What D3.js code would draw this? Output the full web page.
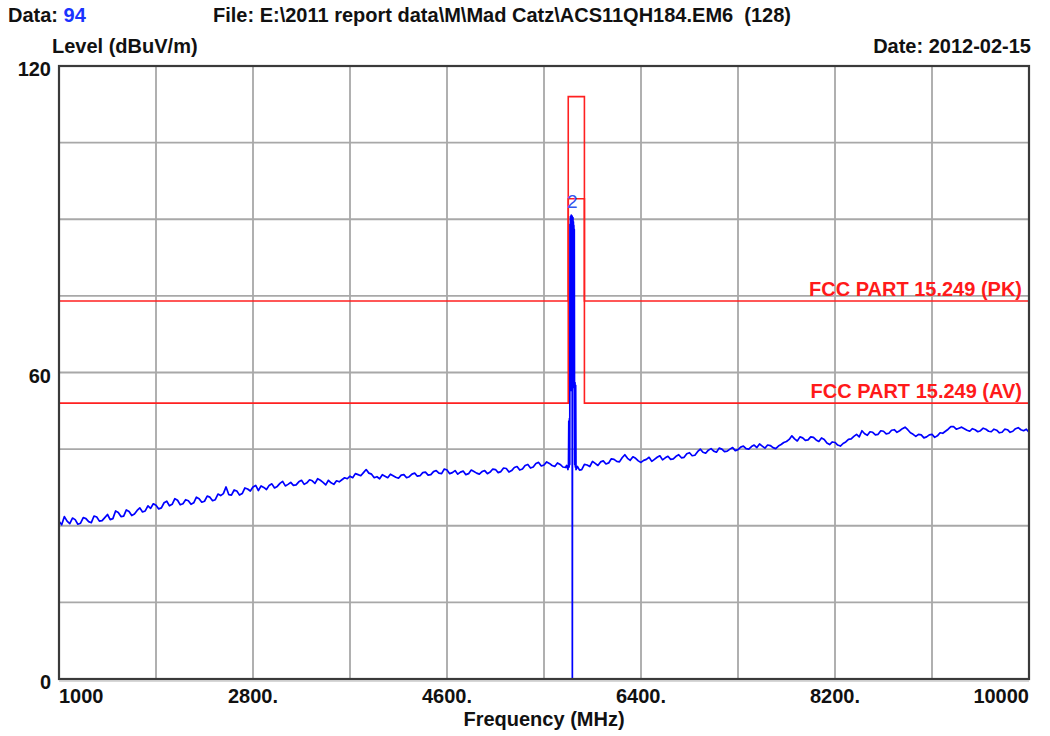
<!DOCTYPE html>
<html><head><meta charset="utf-8">
<script src="https://cdn.jsdelivr.net/npm/d3@7"></script>
<style>
html,body{margin:0;padding:0;background:#fff;}
svg text{font-family:"Liberation Sans",Arial,sans-serif;font-weight:bold;white-space:pre;}
</style></head>
<body><svg id="c" width="1050" height="736"></svg>
<script>
// ---------- data ----------
const xTickValues = [1000, 2800, 4600, 6400, 8200, 10000];
const xTickLabels = ["1000", "2800.", "4600.", "6400.", "8200.", "10000"];
const yTickValues = [0, 60, 120];
const yTickLabels = ["0", "60", "120"];
const xGrid = [1900, 2800, 3700, 4600, 5500, 6400, 7300, 8200, 9100];
const yGrid = [15, 30, 45, 60, 75, 90, 105];

// limit lines [MHz, dBuV/m]
const limitPK = [[1000,74],[5725,74],[5725,114],[5875,114],[5875,74],[10000,74]];
const limitAV = [[1000,54],[5725,54],[5725,94],[5875,94],[5875,54],[10000,54]];
const limitLabels = ["FCC PART 15.249 (PK)", "FCC PART 15.249 (AV)"];
const limitLabelLevels = [74, 54];

// measured trace [MHz, dBuV/m]
const trace = [
[1000,30.9],[1025,30.2],[1050,31.8],[1075,30.9],[1100,30.4],[1125,31.5],[1150,31.2],[1175,30.3],[1200,30.5],[1225,31.6],
[1250,31.4],[1275,30.8],[1300,30.6],[1325,31.9],[1350,31.7],[1375,30.9],[1400,31.0],[1425,31.6],[1450,32.2],[1475,31.2],
[1500,31.4],[1525,32.9],[1550,32.6],[1575,31.8],[1600,31.9],[1625,33.1],[1650,32.8],[1675,32.0],[1700,32.3],[1725,33.0],
[1750,33.5],[1775,32.7],[1800,32.9],[1825,33.9],[1850,33.4],[1875,34.3],[1900,34.0],[1925,33.3],[1950,33.5],[1975,34.5],
[2000,34.8],[2025,33.9],[2050,34.2],[2075,35.3],[2100,35.0],[2125,34.1],[2150,34.3],[2175,35.1],[2200,34.9],[2225,34.2],
[2250,34.5],[2275,35.6],[2300,35.3],[2325,34.6],[2350,34.8],[2375,35.8],[2400,35.6],[2425,34.9],[2450,35.1],[2475,36.2],
[2500,35.9],[2525,36.3],[2550,37.6],[2575,36.1],[2600,36.0],[2625,37.0],[2650,36.8],[2675,36.0],[2700,36.3],[2725,37.4],
[2750,37.2],[2775,36.8],[2800,37.6],[2825,37.9],[2850,36.9],[2875,37.8],[2900,37.5],[2925,37.1],[2950,37.9],[2975,38.2],
[3000,37.4],[3025,37.7],[3050,38.3],[3075,38.7],[3100,37.8],[3125,38.1],[3150,38.5],[3175,37.9],[3200,38.0],[3225,38.6],
[3250,38.9],[3275,38.1],[3300,38.4],[3325,39.0],[3350,38.8],[3375,38.3],[3400,39.2],[3425,38.9],[3450,38.5],[3475,38.0],
[3500,38.9],[3525,38.4],[3550,38.1],[3575,38.8],[3600,38.6],[3625,39.0],[3650,39.4],[3675,39.2],[3700,39.7],[3725,39.4],
[3750,40.2],[3775,40.0],[3800,39.8],[3825,40.4],[3850,41.0],[3875,40.3],[3900,40.1],[3925,39.4],[3950,39.6],[3975,39.2],
[4000,40.0],[4025,39.7],[4050,39.4],[4075,40.1],[4100,39.8],[4125,39.5],[4150,39.3],[4175,39.9],[4200,40.0],[4225,39.4],
[4250,39.6],[4275,40.1],[4300,40.3],[4325,39.7],[4350,39.8],[4375,40.4],[4400,40.5],[4425,39.9],[4450,40.0],[4475,40.6],
[4500,40.8],[4525,40.3],[4550,40.2],[4575,41.1],[4600,40.9],[4625,40.2],[4650,40.4],[4675,40.8],[4700,40.1],[4725,40.5],
[4750,40.7],[4775,40.0],[4800,40.2],[4825,40.9],[4850,40.6],[4875,40.3],[4900,40.1],[4925,40.6],[4950,40.8],[4975,40.2],
[5000,40.5],[5025,41.1],[5050,41.0],[5075,40.4],[5100,40.6],[5125,41.3],[5150,41.2],[5175,40.5],[5200,40.8],[5225,41.4],
[5250,41.6],[5275,40.9],[5300,41.1],[5325,41.8],[5350,42.0],[5375,41.3],[5400,41.5],[5425,42.2],[5450,42.4],[5475,41.7],
[5500,41.9],[5525,42.5],[5550,42.2],[5575,41.8],[5600,41.6],[5625,42.3],[5650,42.0],[5675,41.5],[5700,41.4],[5710,41.8],
[5722,41.0],[5727,42.0],[5730,50.5],[5733,41.5],[5736,51.0],[5739,42.0],[5741,89.0],[5743,57.0],[5745,90.5],[5747,58.0],
[5749,89.5],[5751,56.5],[5753,90.8],[5755,57.0],[5757,90.2],[5759,58.0],[5761,90.6],[5763,0],[5765,89.8],[5767,57.0],
[5769,90.3],[5771,58.0],[5773,89.5],[5775,57.5],[5777,88.8],[5779,57.0],[5781,88.0],[5783,57.0],[5785,42.0],[5788,58.0],
[5791,41.5],[5794,57.5],[5797,41.0],[5810,41.6],[5830,40.9],[5850,41.0],[5875,42.0],[5900,41.9],[5925,41.6],[5950,42.6],
[5975,42.2],[6000,41.8],[6025,42.5],[6050,42.7],[6075,42.1],[6100,42.3],[6125,43.1],[6150,43.0],[6175,42.6],[6200,42.5],
[6225,43.3],[6250,43.9],[6275,43.2],[6300,42.8],[6325,43.5],[6350,43.2],[6375,42.7],[6400,42.4],[6425,42.8],[6450,43.0],
[6475,43.4],[6500,42.6],[6525,43.0],[6550,43.4],[6575,43.7],[6600,42.9],[6625,43.3],[6650,43.6],[6675,43.0],[6700,43.1],
[6725,43.6],[6750,43.9],[6775,43.3],[6800,43.4],[6825,44.1],[6850,44.3],[6875,43.7],[6900,43.8],[6925,44.5],[6950,45.0],
[6975,44.4],[7000,44.2],[7025,44.8],[7050,45.1],[7075,44.6],[7100,44.4],[7125,45.2],[7150,45.0],[7175,44.5],[7200,44.6],
[7225,45.0],[7250,45.3],[7275,44.7],[7300,44.9],[7325,45.4],[7350,45.6],[7375,45.1],[7400,45.0],[7425,45.5],[7450,45.8],
[7475,45.3],[7500,46.0],[7525,45.6],[7550,45.2],[7575,45.8],[7600,45.7],[7625,45.3],[7650,45.1],[7675,45.6],[7700,45.9],
[7725,46.3],[7750,46.5],[7775,46.9],[7800,47.6],[7825,47.0],[7850,46.6],[7875,47.4],[7900,47.2],[7925,46.7],[7950,46.8],
[7975,47.4],[8000,47.3],[8025,46.8],[8050,46.5],[8075,47.2],[8100,46.9],[8125,46.2],[8150,45.9],[8175,46.4],[8200,46.3],
[8225,45.8],[8250,45.6],[8275,46.1],[8300,46.4],[8325,46.9],[8350,47.0],[8375,47.5],[8400,47.9],[8425,47.4],[8450,48.6],
[8475,48.0],[8500,47.7],[8525,48.4],[8550,48.3],[8575,47.8],[8600,47.9],[8625,48.6],[8650,48.5],[8675,48.0],[8700,48.1],
[8725,48.7],[8750,48.8],[8775,48.3],[8800,48.6],[8825,49.0],[8850,49.3],[8875,48.8],[8900,48.2],[8925,47.9],[8950,47.5],
[8975,47.9],[9000,47.8],[9025,47.2],[9050,47.4],[9075,47.8],[9100,47.9],[9125,47.3],[9150,47.6],[9175,48.2],[9200,48.1],
[9225,48.5],[9250,48.9],[9275,49.4],[9300,49.4],[9325,48.9],[9350,49.1],[9375,49.3],[9400,49.0],[9425,48.7],[9450,48.5],
[9475,49.0],[9500,48.8],[9525,48.4],[9550,48.6],[9575,49.1],[9600,48.9],[9625,48.5],[9650,48.4],[9675,48.9],[9700,48.7],
[9725,48.2],[9750,48.3],[9775,48.9],[9800,48.8],[9825,48.3],[9850,48.5],[9875,49.0],[9900,49.2],[9925,48.8],[9950,48.6],
[9975,48.9],[10000,48.3]
];
const markerLabel = "2";
const markerPoint = [5762, 90.8];

const headerData = "94";
const headerFile = "File: E:\\2011 report data\\M\\Mad Catz\\ACS11QH184.EM6  (128)";
const headerDate = "Date: 2012-02-15";
const yTitle = "Level (dBuV/m)";
const xTitle = "Frequency (MHz)";

// ---------- drawing ----------
const L = 59, R = 1029, T = 66, B = 679;
const FS = 20;
const svg = d3.select("#c");
const x = d3.scaleLinear().domain([1000, 10000]).range([L, R]);
const y = d3.scaleLinear().domain([0, 120]).range([B, T]);

svg.append("defs").append("clipPath").attr("id","clip")
  .append("rect").attr("x",L).attr("y",T).attr("width",R-L).attr("height",B-T);

// grid
const g = svg.append("g");
g.selectAll(".vg").data(xGrid).join("line")
  .attr("x1",d=>x(d)).attr("x2",d=>x(d)).attr("y1",T).attr("y2",B)
  .attr("stroke","#a8a8a8").attr("stroke-width",1.8);
g.selectAll(".hg").data(yGrid).join("line")
  .attr("y1",d=>y(d)).attr("y2",d=>y(d)).attr("x1",L).attr("x2",R)
  .attr("stroke","#a8a8a8").attr("stroke-width",1.8);

const line = d3.line().x(d=>x(d[0])).y(d=>y(d[1]));
const plot = svg.append("g").attr("clip-path","url(#clip)");
[limitPK, limitAV].forEach(lim=>{
  plot.append("path").attr("d", line(lim)).attr("fill","none")
    .attr("stroke","#ff2020").attr("stroke-width",1.6);
});
plot.append("path").attr("d", line(trace)).attr("fill","none")
  .attr("stroke","#0000ff").attr("stroke-width",1.7).attr("stroke-linejoin","round");

// frame
svg.append("rect").attr("x",L).attr("y",T).attr("width",R-L).attr("height",B-T)
  .attr("fill","none").attr("stroke","#3a3a3a").attr("stroke-width",2.2);
svg.append("line").attr("x1",L).attr("x2",R).attr("y1",B+2).attr("y2",B+2)
  .attr("stroke","#b0b0b0").attr("stroke-width",1);

// limit labels
svg.selectAll(".ll").data(limitLabels).join("text")
  .attr("x", R-7).attr("y",(d,i)=>y(limitLabelLevels[i])-5)
  .attr("text-anchor","end").attr("font-size",FS).attr("fill","#ff1a1a").text(d=>d);

// marker
svg.append("text").attr("x",x(markerPoint[0])).attr("y",y(markerPoint[1])-7)
  .attr("text-anchor","middle").attr("font-size",19)
  .style("font-weight","normal").attr("fill","#3355ee").text(markerLabel);

// x tick labels
svg.selectAll(".xt").data(xTickValues).join("text")
  .attr("x",d=>x(d)).attr("y",703)
  .attr("text-anchor",(d,i)=> i===0 ? "start" : (i===xTickValues.length-1 ? "end" : "middle"))
  .attr("font-size",FS).attr("fill","#111").text((d,i)=>xTickLabels[i]);
// y tick labels
svg.selectAll(".yt").data(yTickValues).join("text")
  .attr("x",51).attr("y",d=>y(d)+10)
  .attr("text-anchor","end").attr("font-size",FS).attr("fill","#111").text((d,i)=>yTickLabels[i]);

// titles
svg.append("text").attr("x",x(5500)).attr("y",726).attr("text-anchor","middle")
  .attr("font-size",FS).attr("fill","#111").text(xTitle);
svg.append("text").attr("x",52).attr("y",53).attr("font-size",FS).attr("fill","#111").text(yTitle);
const hd = svg.append("text").attr("x",8).attr("y",22).attr("font-size",FS).attr("fill","#111");
hd.append("tspan").text("Data: ");
hd.append("tspan").attr("fill","#1a33ff").text(headerData);
svg.append("text").attr("x",213).attr("y",22).attr("font-size",FS).attr("fill","#111").text(headerFile);
svg.append("text").attr("x",1031).attr("y",53).attr("text-anchor","end").attr("font-size",FS).attr("fill","#111").text(headerDate);
</script></body></html>
